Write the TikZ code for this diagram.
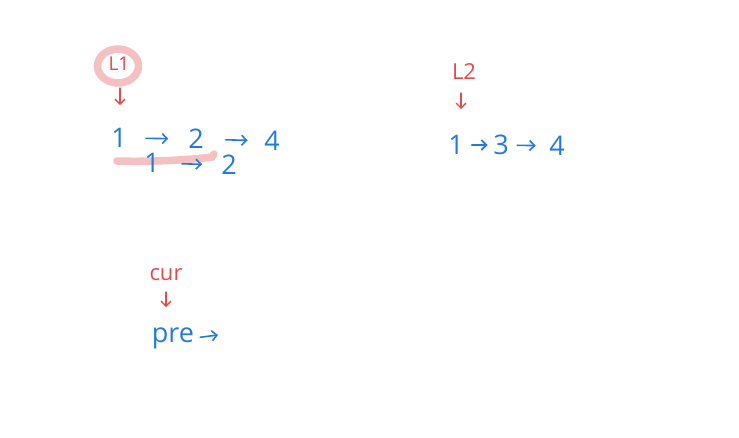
\documentclass[tikz,border=0pt]{standalone}
\usepackage{fontspec}
\setmainfont{Open Sans}
\usetikzlibrary{arrows.meta,calc}
\definecolor{inkblue}{RGB}{35,122,222}
\definecolor{inkred}{RGB}{232,72,72}
\definecolor{hlpink}{RGB}{245,192,194}
\tikzset{
  num/.style={text=inkblue,font=\fontsize{27}{30}\selectfont,inner sep=0pt,anchor=center},
  lbl/.style={text=inkred,font=\fontsize{22}{25}\selectfont,inner sep=0pt,anchor=center},
  barr/.style={draw=inkblue,line width=1.6pt,line cap=round,-{Straight Barb[length=5pt,width=10pt,line width=1.6pt]}},
  rarr/.style={draw=inkred,line width=1.3pt,line cap=round,-{Straight Barb[length=5pt,width=10pt,line width=1.3pt]}},
  hl/.style={draw=hlpink,line width=7.5pt,line cap=round},
}
\begin{document}
\begin{tikzpicture}[x=1pt,y=-1pt]
\useasboundingbox (0,0) rectangle (739,437);
% highlights
\draw[hl] (118,66) ellipse (20.5 and 17);
\draw[hl] (117,161) .. controls (150,162) and (190,160) .. (212,157) -- (214,154);
% list 1
\node[lbl,font=\fontsize{19}{22}\selectfont] (L1) at (119,64) {L1};
\node[num] (a1) at (119,138) {1};
\node[num] (a2) at (196,139) {2};
\node[num] (a4) at (272,141) {4};
\node[num] (b1) at (152,163) {1};
\node[num] (b2) at (229,165) {2};
\draw[rarr] ($(L1)+(1,24)$) -- ++(0,17);
\draw[barr] ($(a1)!.35!(a2)$) -- ($(a1)!.64!(a2)$);
\draw[barr] ($(a2)!.39!(a4)$) -- ($(a2)!.68!(a4)$);
\draw[barr] ($(b1)!.39!(b2)$) -- ($(b1)!.65!(b2)$);
% list 2
\node[lbl] (L2) at (464,72) {L2};
\node[num] (c1) at (456,145) {1};
\node[num] (c3) at (501,145) {3};
\node[num] (c4) at (557,146) {4};
\draw[rarr] ($(L2)+(-3,21)$) -- ++(0,16);
\draw[barr] ($(c1)!.35!(c3)$) -- ($(c1)!.70!(c3)$);
\draw[barr] ($(c3)!.29!(c4)$) -- ($(c3)!.62!(c4)$);
% cur / pre
\node[lbl] (cur) at (166,275) {cur};
\node[num] (pre) at (173,338) {pre};
\coordinate (pe) at (218,335);
\draw[rarr] ($(cur)+(0,17)$) -- ++(0,15);
\draw[barr,shorten <=6pt] (pre.east) -- (pe);
\end{tikzpicture}
\end{document}
